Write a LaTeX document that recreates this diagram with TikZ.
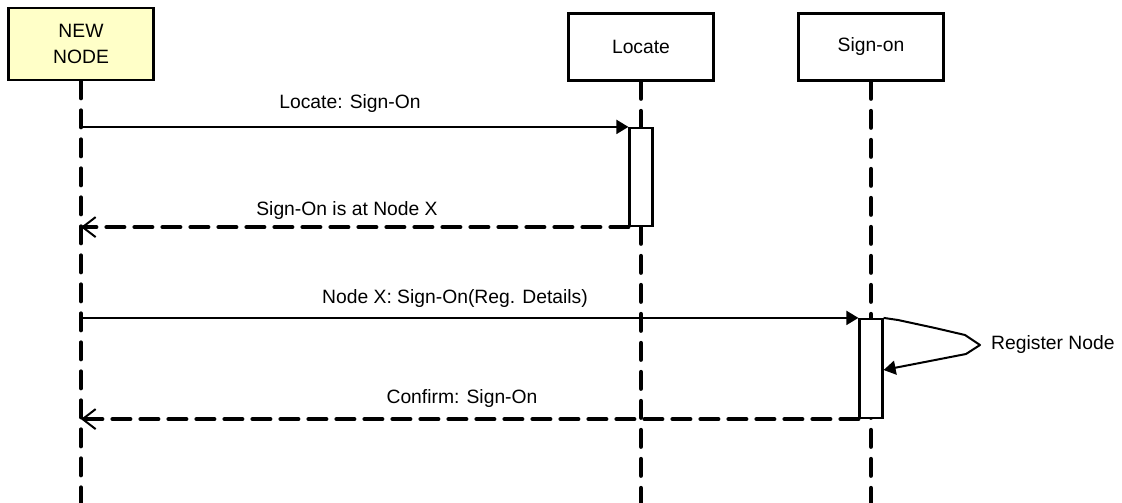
\documentclass[tikz,border=0pt]{standalone}
\usepackage{fontspec}
\setmainfont{Liberation Sans}
\usetikzlibrary{arrows.meta}
\definecolor{headyellow}{RGB}{255,255,200}
\begin{document}
\begin{tikzpicture}[x=1pt,y=-1pt,
  every node/.style={font=\fontsize{19.3}{26}\selectfont},
  head/.style={draw, line width=2.7pt, minimum width=145pt, inner sep=0pt, align=center},
  life/.style={line width=4pt, line cap=round, dash pattern=on 17pt off 12pt},
  act/.style={draw, fill=white, line width=2.2pt, minimum width=23pt, inner sep=0pt},
  call/.style={line width=2pt, -{Triangle[length=12pt,width=14pt]}},
  ret/.style={line width=4pt, line cap=round, dash pattern=on 18pt off 10pt,
    -{Straight Barb[length=13pt,width=20pt,line width=2pt]}},
  lbl/.style={inner sep=0pt, anchor=base}
]
\useasboundingbox (0,0) rectangle (1122,503);

% heads
\node[head, fill=headyellow, minimum height=72pt] (nn) at (81,44) {NEW\\NODE};
\node[head, minimum height=67pt] (loc) at (641,47) {Locate};
\node[head, minimum height=67pt] (son) at (871,47) {Sign-on};

% lifeline ends
\coordinate (nnend) at (nn.south |- 0,503);
\coordinate (locend) at (loc.south |- 0,503);
\coordinate (sonend) at (son.south |- 0,503);

\draw[life] (nn.south) -- (nnend);
\draw[life] (loc.south) -- (locend);
\draw[life] (son.south) -- (sonend);

% activations
\node[act, minimum height=98pt] (act1) at (641,177) {};
\node[act, minimum height=99pt] (act2) at (871,368.5) {};

% messages
\coordinate (m1s) at (nn.south |- act1.north west);
\coordinate (m2e) at (nn.south |- act1.south west);
\coordinate (m3s) at (nn.south |- act2.north west);
\coordinate (m4e) at (nn.south |- act2.south west);

\draw[call] (m1s) -- (act1.north west);
\draw[ret] (act1.south west) -- (m2e);
\draw[call] (m3s) -- (act2.north west);
\draw[ret] (act2.south west) -- (m4e);

\node[lbl] (l1) at (350,108) {Locate: Sign-On};
\node[lbl] (l2) at (347,215) {Sign-On is at Node X};
\node[lbl] (l3) at (455,303) {Node X: Sign-On(Reg. Details)};
\node[lbl] (l4) at (462,403) {Confirm: Sign-On};

% self message
\coordinate (rn) at (980,345);
\coordinate (selfend) at (act2.east |- 0,370);
\draw[line width=2pt, line join=round, -{Triangle[length=12pt,width=14pt]}]
  (act2.north east) -- (898,320) -- (935,328) -- (965,335) -- (rn)
  -- (966,354) -- (930,361) -- (selfend);
\node[inner sep=0pt, anchor=west] (rnl) at (991,345) {Register Node};
\end{tikzpicture}
\end{document}
